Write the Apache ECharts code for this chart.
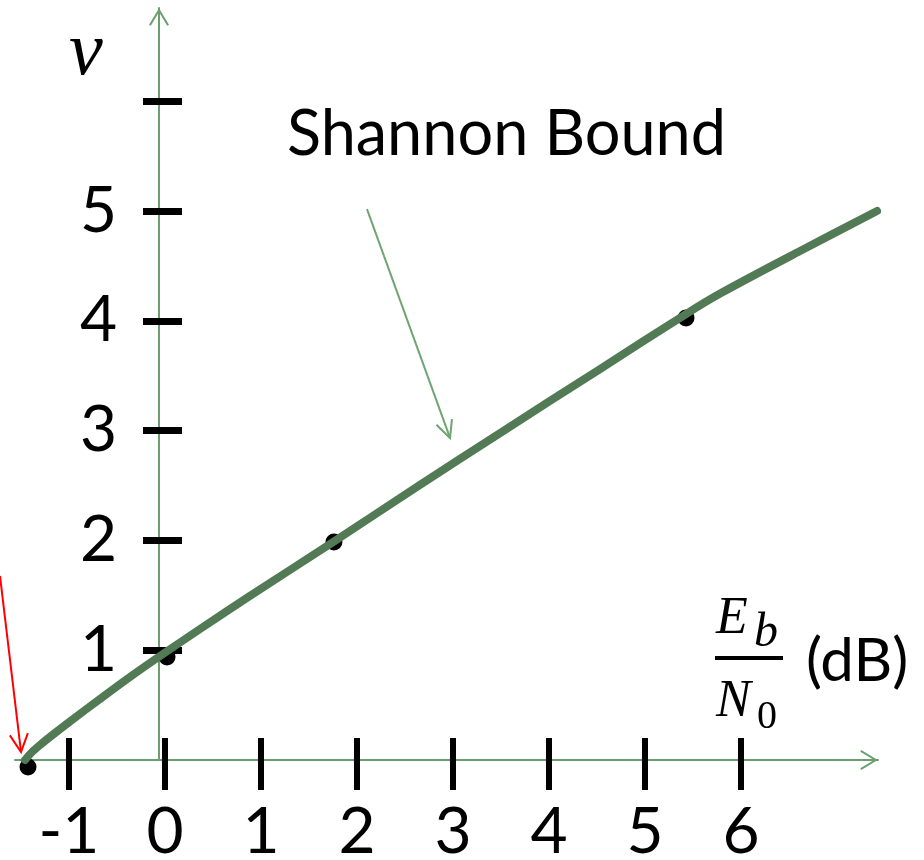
<!DOCTYPE html>
<html>
<head>
<meta charset="utf-8">
<script src="https://cdn.jsdelivr.net/npm/echarts@6/dist/echarts.min.js"></script>
<style>
  html, body { margin: 0; padding: 0; background: #ffffff; }
  #chart { width: 924px; height: 860px; }
</style>
</head>
<body>
<div id="chart"></div>
<script>
// Shannon bound: Eb/N0 in dB (x) against spectral efficiency nu (y)
const boundDb = [-1.458, -1.385, -1.302, -1.146, -0.990, -0.677, -0.365, -0.052, 0.365, 0.885, 1.750, 2.656, 3.490, 4.531, 5.427, 5.792, 6.615, 7.417];
const boundNu = [0, 0.073, 0.137, 0.246, 0.351, 0.556, 0.756, 0.947, 1.193, 1.494, 1.985, 2.505, 2.978, 3.561, 4.062, 4.253, 4.636, 5.0];

// marked operating points
const pointDb = [-1.427, 0.021, 1.760, 5.427];
const pointNu = [-0.064, 0.938, 1.985, 4.026];

// axis ticks and labels
const xTicks = [-1, 0, 1, 2, 3, 4, 5, 6];
const yTicks = [1, 2, 3, 4, 5, 6];
const yLabels = [1, 2, 3, 4, 5];
const xRange = [-1.5625, 7.427];
const yRange = [0, 6.849];

// annotation arrows: [fromDb, fromNu, toDb, toNu]
const boundArrow = [2.104, 5.018, 2.969, 2.933];
const limitArrow = [-1.719, 1.676, -1.5, 0.073];

const AXIS_GREEN = '#6b9f6f';
const CURVE_GREEN = '#527a55';
const SANS = 'Lato';
const SERIF = 'Liberation Serif';
// open arrow head, pointing up inside its box
const OPEN_HEAD = 'path://M0 16.5L10 0L20 16.5L18.2 17.5L10 3.7L1.8 17.5Z';

const chart = echarts.init(document.getElementById('chart'), null, { renderer: 'canvas' });

const curve = boundDb.map((d, i) => [d, boundNu[i]]);
const points = pointDb.map((d, i) => [d, pointNu[i]]);

const mainAxisLine = {
  show: true,
  onZero: false,
  lineStyle: { color: AXIS_GREEN, width: 2 },
  symbol: ['none', OPEN_HEAD],
  symbolSize: [20, 17.5],
  symbolOffset: [0, -9]
};

chart.setOption({
  animation: false,
  backgroundColor: '#ffffff',
  grid: { left: 15, right: 46, top: 8, bottom: 100, containLabel: false, outerBoundsMode: 'none' },
  xAxis: [
    {
      type: 'value', min: xRange[0], max: xRange[1], position: 'bottom',
      axisLine: mainAxisLine,
      axisTick: { show: false }, axisLabel: { show: false }, splitLine: { show: false }
    },
    {
      type: 'value', min: xRange[0], max: xRange[1], position: 'bottom', offset: 30,
      axisLine: { show: false, onZero: false },
      axisTick: { show: true, inside: true, length: 52, customValues: xTicks, lineStyle: { color: '#000', width: 6 } },
      axisLabel: {
        show: true, customValues: xTicks, margin: 10, color: '#000',
        fontFamily: SANS, fontSize: 64, formatter: v => String(v)
      },
      splitLine: { show: false }
    }
  ],
  yAxis: [
    {
      type: 'value', min: yRange[0], max: yRange[1], position: 'left', offset: -144,
      axisLine: mainAxisLine,
      axisTick: { show: false }, axisLabel: { show: false }, splitLine: { show: false }
    },
    {
      type: 'value', min: yRange[0], max: yRange[1], position: 'left', offset: -128,
      axisLine: { show: false, onZero: false },
      axisTick: { show: true, inside: true, length: 39, customValues: yTicks, lineStyle: { color: '#000', width: 7 } },
      axisLabel: {
        show: true, customValues: yLabels, margin: 26, color: '#000',
        fontFamily: SANS, fontSize: 64, padding: [24, 0, 0, 0], formatter: v => String(v)
      },
      splitLine: { show: false }
    }
  ],
  series: [
    {
      type: 'scatter', xAxisIndex: 0, yAxisIndex: 0, z: 2, clip: false,
      data: points, symbol: 'circle', symbolSize: 17,
      itemStyle: { color: '#000', opacity: 1 }
    },
    {
      type: 'line', xAxisIndex: 0, yAxisIndex: 0, z: 3, clip: false,
      data: curve, smooth: 0.3, showSymbol: false,
      lineStyle: { color: CURVE_GREEN, width: 8, cap: 'round', join: 'round' }
    }
  ]
});

// straight annotation arrow with an open head, anchored in data coordinates
function arrow(a, color, width, head, spread) {
  const finder = { xAxisIndex: 0, yAxisIndex: 0 };
  const p0 = chart.convertToPixel(finder, [a[0], a[1]]);
  const p1 = chart.convertToPixel(finder, [a[2], a[3]]);
  const ang = Math.atan2(p1[1] - p0[1], p1[0] - p0[0]);
  const l = [p1[0] - head * Math.cos(ang - spread), p1[1] - head * Math.sin(ang - spread)];
  const r = [p1[0] - head * Math.cos(ang + spread), p1[1] - head * Math.sin(ang + spread)];
  return [
    { type: 'line', z: 10, shape: { x1: p0[0], y1: p0[1], x2: p1[0], y2: p1[1] }, style: { stroke: color, lineWidth: width } },
    { type: 'polyline', z: 10, shape: { points: [l, p1, r] }, style: { stroke: color, lineWidth: width, fill: null } }
  ];
}

const graphics = []
  .concat(arrow(boundArrow, '#6fa473', 2, 19, 0.45))
  .concat(arrow(limitArrow, '#ff0000', 2, 20, 0.47))
  .concat([
    { type: 'text', z: 10, x: 287, y: 135,
      style: { text: 'Shannon Bound', font: '63px ' + SANS, fill: '#000', verticalAlign: 'middle', align: 'left' } },
    { type: 'text', z: 10, x: 69, y: 54,
      style: { text: 'ν', font: 'italic 76px "' + SERIF + '"', fill: '#000', verticalAlign: 'middle', align: 'left' } },
    { type: 'text', z: 10, x: 716, y: 619,
      style: { text: 'E', font: 'italic 52px "' + SERIF + '"', fill: '#000', verticalAlign: 'middle', align: 'left' } },
    { type: 'text', z: 10, x: 754, y: 633,
      style: { text: 'b', font: 'italic 48px "' + SERIF + '"', fill: '#000', verticalAlign: 'middle', align: 'left' } },
    { type: 'line', z: 10, shape: { x1: 715, y1: 658, x2: 783, y2: 658 }, style: { stroke: '#000', lineWidth: 4 } },
    { type: 'text', z: 10, x: 716, y: 702,
      style: { text: 'N', font: 'italic 52px "' + SERIF + '"', fill: '#000', verticalAlign: 'middle', align: 'left' } },
    { type: 'text', z: 10, x: 757, y: 717,
      style: { text: '0', font: '40px "' + SERIF + '"', fill: '#000', verticalAlign: 'middle', align: 'left' } },
    { type: 'text', z: 10, x: 806, y: 662,
      style: { text: '(dB)', font: '60px ' + SANS, fill: '#000', verticalAlign: 'middle', align: 'left' } }
  ]);

chart.setOption({ graphic: graphics });
</script>
</body>
</html>
